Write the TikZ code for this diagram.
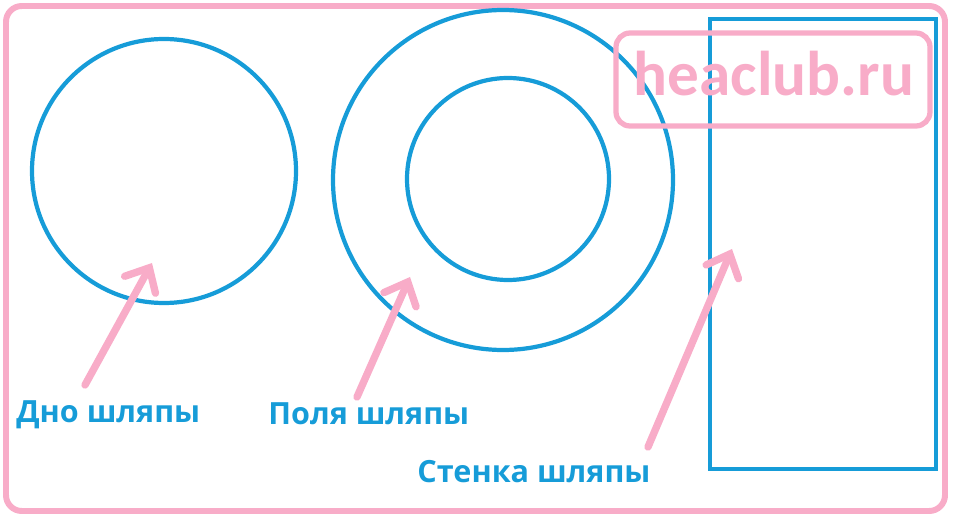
\documentclass[tikz,border=0pt]{standalone}
\usepackage{fontspec}
\setmainfont{Open Sans}
\newfontfamily\markfont{Carlito}
\usetikzlibrary{arrows.meta}

\definecolor{hatblue}{RGB}{22,156,216}
\definecolor{hatpink}{RGB}{248,172,200}

\tikzset{
  part/.style={draw=hatblue, line width=2.4pt},
  caption/.style={text=hatblue, font=\bfseries\fontsize{17.4}{19}\selectfont, inner sep=0pt, anchor=west},
  pointer/.style={draw=hatpink, line width=4.2pt, line cap=round,
    -{Straight Barb[length=11pt, width=20pt, line cap=round]}}
}

\begin{document}
\begin{tikzpicture}[x=0.02cm, y=-0.02cm]
                \useasboundingbox (0,0) rectangle (954,520);
                % frame
                \draw[hatpink, line width=3.4pt, rounded corners=9pt] (6,6) rectangle (945,511);

                % hat parts
                \node[part, circle, minimum size=264*0.02cm, inner sep=0pt] (bottom) at (164,171) {};
                \node[part, circle, minimum size=340*0.02cm, inner sep=0pt] (brim) at (503,180) {};
                \node[part, circle, minimum size=202*0.02cm, inner sep=0pt] (hole) at (508,179) {};
                \node[part, rectangle, minimum width=226*0.02cm, minimum height=450*0.02cm, inner sep=0pt] (wall) at (823,244) {};

                % watermark
                \draw[hatpink, line width=3pt, rounded corners=8pt] (616,33) rectangle (930,126);
                \node[text=hatpink, font=\markfont\bfseries\fontsize{36}{40}\selectfont, inner sep=0pt] (mark) at (774,74) {heaclub.ru};

                % labels
                \node[caption] (lbottom) at (16,415) {Дно шляпы};
                \node[caption] (lbrim) at (268,414) {Поля шляпы};
                \node[caption] (lwall) at (417,472) {Стенка шляпы};

                \coordinate (tbottom) at (85,385);
                \coordinate (hbottom) at (152,263);
                \coordinate (tbrim) at (357,397);
                \coordinate (hbrim) at (410,277);
                \coordinate (twall) at (648,447);
                \coordinate (hwall) at (732,249);

                \draw[pointer] (tbottom) -- (hbottom);
                \draw[pointer] (tbrim) -- (hbrim);
                \draw[pointer] (twall) -- (hwall);
\end{tikzpicture}
\end{document}
